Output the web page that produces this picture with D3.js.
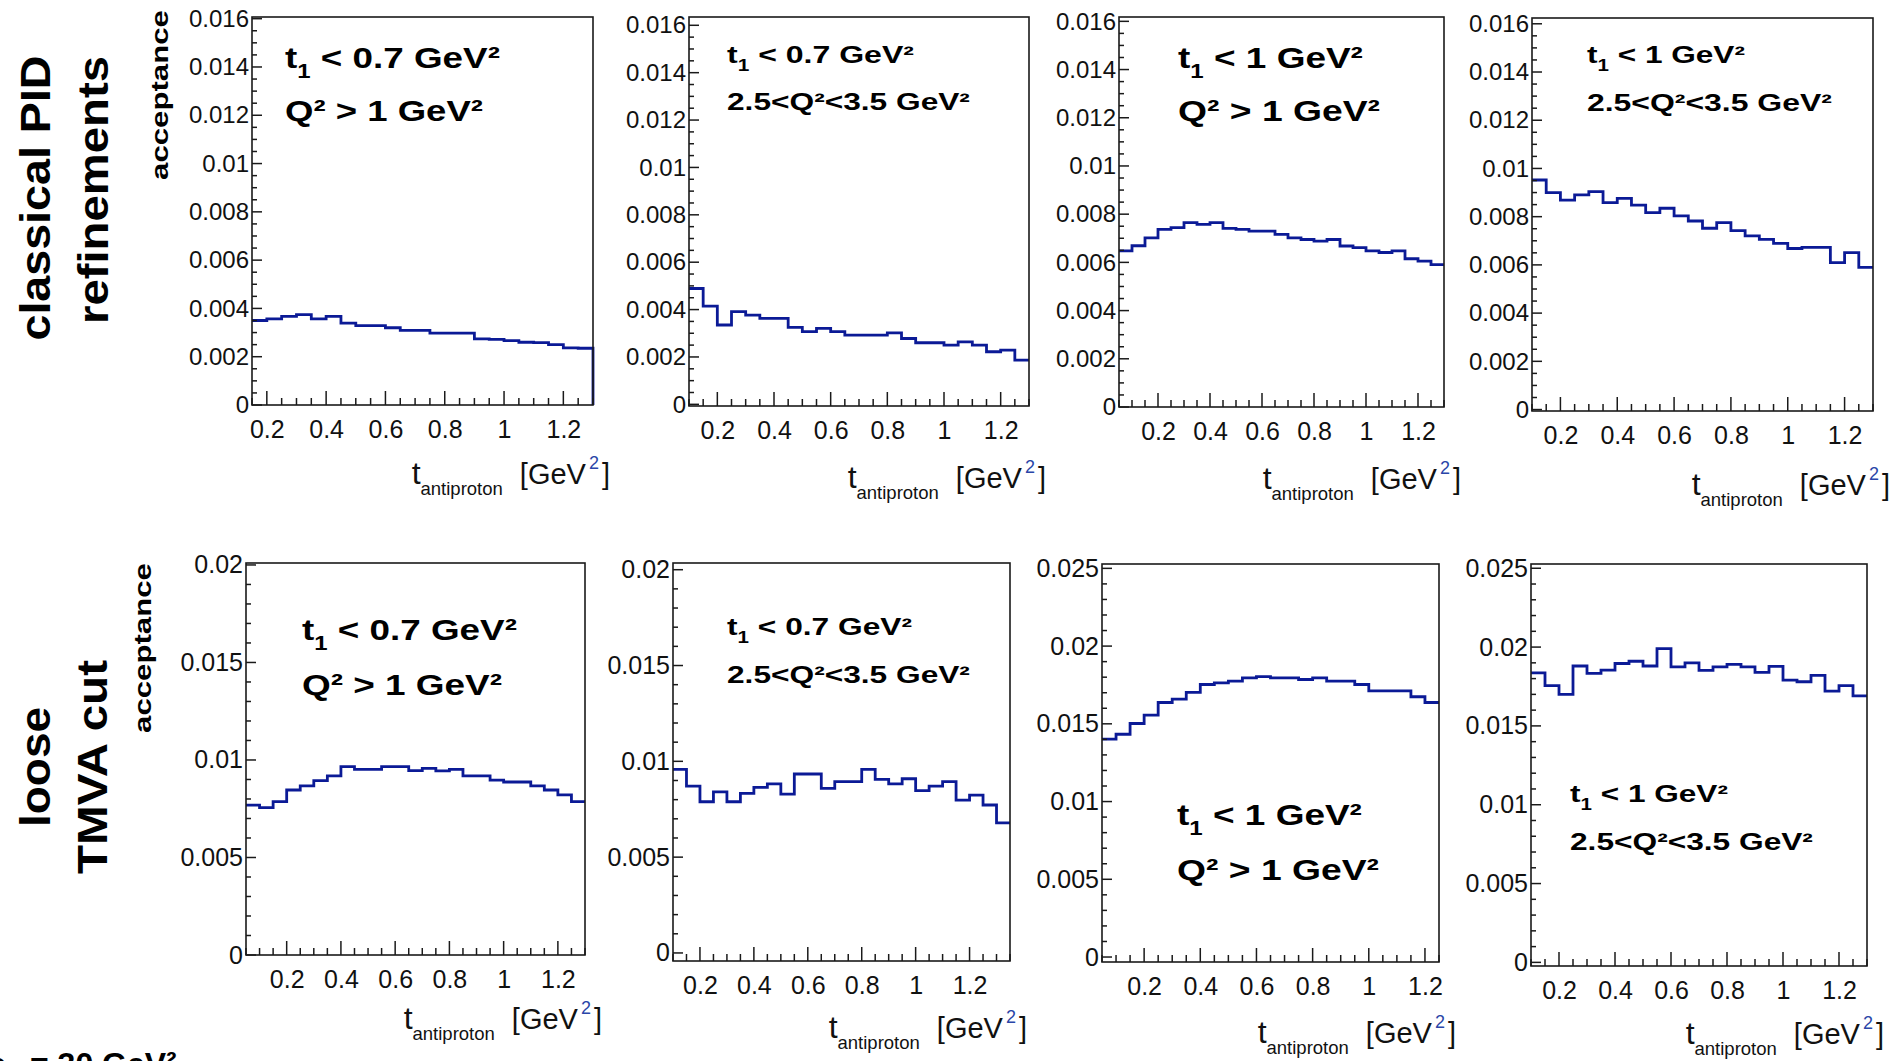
<!DOCTYPE html>
<html>
<head>
<meta charset="utf-8">
<script src="https://cdn.jsdelivr.net/npm/d3@7"></script>
<style>
  html, body { margin: 0; padding: 0; background: #fff; }
  svg { display: block; }
  text { font-family: "Liberation Sans", Arial, Helvetica, sans-serif; }
</style>
</head>
<body>
<svg id="chart" width="1903" height="1061"></svg>
<script>
// ---------------- DATA ----------------
const BIN_WIDTH = 0.05;

// top row: classical PID refinements
const pidT07Q1  = [0.00350,0.00357,0.00367,0.00374,0.00357,0.00367,0.00339,0.00329,0.00329,0.00320,0.00309,0.00309,0.00298,0.00298,0.00298,0.00274,0.00272,0.00267,0.00260,0.00258,0.00250,0.00237,0.00235];
const pidT07Q25 = [0.00489,0.00415,0.00335,0.00391,0.00377,0.00363,0.00363,0.00325,0.00307,0.00321,0.00307,0.00292,0.00292,0.00292,0.00302,0.00278,0.00260,0.00260,0.00250,0.00264,0.00250,0.00222,0.00229,0.00187];
const pidT1Q1   = [0.00648,0.00669,0.00702,0.00737,0.00744,0.00765,0.00758,0.00765,0.00741,0.00737,0.00730,0.00730,0.00716,0.00702,0.00695,0.00688,0.00695,0.00668,0.00661,0.00648,0.00641,0.00648,0.00615,0.00605,0.00591];
const pidT1Q25  = [0.00952,0.00900,0.00869,0.00890,0.00904,0.00858,0.00876,0.00848,0.00817,0.00835,0.00803,0.00782,0.00752,0.00775,0.00742,0.00720,0.00706,0.00689,0.00668,0.00673,0.00673,0.00609,0.00651,0.00590];

// bottom row: loose TMVA cut
const tmvaT07Q1  = [0.00769,0.00756,0.00786,0.00846,0.00867,0.00894,0.00918,0.00966,0.00952,0.00952,0.00966,0.00966,0.00945,0.00957,0.00944,0.00952,0.00918,0.00918,0.00897,0.00887,0.00887,0.00867,0.00846,0.00821,0.00786];
const tmvaT07Q25 = [0.00958,0.00871,0.00789,0.00841,0.00789,0.00833,0.00864,0.00882,0.00829,0.00934,0.00934,0.00859,0.00894,0.00894,0.00958,0.00906,0.00882,0.00909,0.00847,0.00871,0.00894,0.00798,0.00824,0.00772,0.00679];
const tmvaT1Q1   = [0.01401,0.01433,0.01502,0.01556,0.01637,0.01659,0.01702,0.01753,0.01764,0.01775,0.01796,0.01803,0.01796,0.01796,0.01785,0.01796,0.01775,0.01775,0.01753,0.01712,0.01712,0.01712,0.01674,0.01637];
const tmvaT1Q25  = [0.01837,0.01755,0.01700,0.01880,0.01833,0.01854,0.01896,0.01910,0.01880,0.01990,0.01875,0.01900,0.01852,0.01875,0.01890,0.01875,0.01840,0.01877,0.01790,0.01780,0.01820,0.01720,0.01755,0.01690];

const seriesValues = [pidT07Q1, pidT07Q25, pidT1Q1, pidT1Q25, tmvaT07Q1, tmvaT07Q25, tmvaT1Q1, tmvaT1Q25];
const histStart = [0.15, 0.10, 0.05, 0.10, 0.05, 0.10, 0.05, 0.10];
const dropToZeroAtEnd = [true, false, false, false, false, false, false, false];

const xDomains = [[0.15,1.30],[0.10,1.30],[0.05,1.30],[0.10,1.30],[0.05,1.30],[0.10,1.35],[0.05,1.25],[0.10,1.30]];
const yDomains = [[0,0.01607],[-0.00007,0.01635],[0,0.01618],[-0.00006,0.01624],
                  [0,0.0201],[-0.00042,0.02035],[-0.00032,0.02528],[-0.00023,0.02527]];

const xTickValues = [0.2, 0.4, 0.6, 0.8, 1.0, 1.2];
const xTickLabels = ["0.2", "0.4", "0.6", "0.8", "1", "1.2"];
const yTickValuesTop = [0, 0.002, 0.004, 0.006, 0.008, 0.01, 0.012, 0.014, 0.016];
const yTickLabelsTop = ["0", "0.002", "0.004", "0.006", "0.008", "0.01", "0.012", "0.014", "0.016"];
const yTickValuesB1 = [0, 0.005, 0.01, 0.015, 0.02];
const yTickLabelsB1 = ["0", "0.005", "0.01", "0.015", "0.02"];
const yTickValuesB2 = [0, 0.005, 0.01, 0.015, 0.02, 0.025];
const yTickLabelsB2 = ["0", "0.005", "0.01", "0.015", "0.02", "0.025"];

const cutLine1 = [" < 0.7 GeV²", " < 0.7 GeV²", " < 1 GeV²", " < 1 GeV²", " < 0.7 GeV²", " < 0.7 GeV²", " < 1 GeV²", " < 1 GeV²"];
const cutLine2 = ["Q² > 1 GeV²", "2.5<Q²<3.5 GeV²", "Q² > 1 GeV²", "2.5<Q²<3.5 GeV²", "Q² > 1 GeV²", "2.5<Q²<3.5 GeV²", "Q² > 1 GeV²", "2.5<Q²<3.5 GeV²"];
const rowLabels = [["classical PID", "refinements"], ["loose", "TMVA cut"]];
const yAxisTitle = "acceptance";
const footText = ["s", "= 30 GeV²"];

// ---------------- LAYOUT ----------------
const frames = [ // [left, right, top, bottom]
  [252, 593, 17, 405], [689, 1029, 17, 406], [1119, 1444, 17, 407], [1532, 1873, 18, 411],
  [246, 585, 563, 955], [673, 1010, 563, 961], [1102, 1439, 564, 962], [1531, 1867, 564, 966]
];
const yTickSets = [
  [yTickValuesTop, yTickLabelsTop, 0.0005], [yTickValuesTop, yTickLabelsTop, 0.0005],
  [yTickValuesTop, yTickLabelsTop, 0.0005], [yTickValuesTop, yTickLabelsTop, 0.0005],
  [yTickValuesB1, yTickLabelsB1, 0.001], [yTickValuesB1, yTickLabelsB1, 0.001],
  [yTickValuesB2, yTickLabelsB2, 0.001], [yTickValuesB2, yTickLabelsB2, 0.001]
];
const yLabelFont = [24, 24, 24, 24, 25, 25, 25, 25];
// annotation: [x, baseline1, baseline2, fontSize, width1, width2]
const annots = [
  [285, 68, 121, 30, 215, 198], [727, 63, 110, 24, 187, 243],
  [1178, 68, 121, 30, 185, 202], [1587, 63, 111, 24, 158, 245],
  [302, 640, 695, 30, 215, 200], [727, 635, 683, 24, 185, 243],
  [1177, 825, 880, 30, 185, 202], [1570, 802, 850, 24, 158, 243]
];
const xTitleOffset = [79, 82, 82, 84, 74, 77, 81, 78];

const svg = d3.select("#chart");
svg.append("rect").attr("width", 1903).attr("height", 1061).attr("fill", "#fff");

const HIST_COLOR = "#0b1a96";
const AXIS_COLOR = "#1a1a1a";

function fitGroup(parent, x, y, target, build, rotate) {
  const g = parent.append("g");
  const t = g.append("text");
  build(t);
  const w = t.node().getBBox().width;
  const s = target ? target / w : 1;
  g.attr("transform", `translate(${x},${y})` + (rotate ? " rotate(-90)" : "") + ` scale(${s},1)`);
  return g;
}

seriesValues.forEach((vals, i) => {
  const [L, R, T, B] = frames[i];
  const x = d3.scaleLinear().domain(xDomains[i]).range([L, R]);
  const y = d3.scaleLinear().domain(yDomains[i]).range([B, T]);
  const g = svg.append("g");

  // histogram (step line)
  const pts = vals.map((v, k) => [histStart[i] + k * BIN_WIDTH, v]);
  const xEnd = histStart[i] + vals.length * BIN_WIDTH;
  pts.push([xEnd, vals[vals.length - 1]]);
  if (dropToZeroAtEnd[i]) pts.push([xEnd, 0]);
  const line = d3.line().x(d => x(d[0])).y(d => y(d[1])).curve(d3.curveStepAfter);
  g.append("path").attr("d", line(pts))
    .attr("fill", "none").attr("stroke", HIST_COLOR).attr("stroke-width", 2.8)
    .attr("stroke-linejoin", "miter");

  // frame
  g.append("rect").attr("x", L).attr("y", T).attr("width", R - L).attr("height", B - T)
    .attr("fill", "none").attr("stroke", AXIS_COLOR).attr("stroke-width", 1.6);

  // x ticks
  const d0 = xDomains[i][0], d1 = xDomains[i][1];
  const minorX = d3.range(Math.ceil(d0 / 0.05 - 1e-6), Math.floor(d1 / 0.05 + 1e-6) + 1).map(k => k * 0.05)
    .filter(v => !xTickValues.some(t => Math.abs(t - v) < 1e-6));
  const xAxis = d3.axisBottom(x).tickValues(xTickValues).tickFormat((d, k) => xTickLabels[k]).tickSize(0);
  const gx = g.append("g").attr("transform", `translate(0,${B})`).call(xAxis);
  gx.select(".domain").remove();
  gx.selectAll("text").attr("font-size", 25).attr("fill", "#111").attr("dy", null).attr("y", 33)
    .attr("font-family", "Liberation Sans, Arial, sans-serif");
  g.selectAll(null).data(minorX).enter().append("line")
    .attr("x1", d => x(d)).attr("x2", d => x(d)).attr("y1", B).attr("y2", B - 7)
    .attr("stroke", AXIS_COLOR).attr("stroke-width", 1.5);
  g.selectAll(null).data(xTickValues.filter(v => v >= d0 && v <= d1)).enter().append("line")
    .attr("x1", d => x(d)).attr("x2", d => x(d)).attr("y1", B).attr("y2", B - 14)
    .attr("stroke", AXIS_COLOR).attr("stroke-width", 1.5);

  // y ticks
  const [yv, yl, ystep] = yTickSets[i];
  const yTop = yDomains[i][1];
  const minorY = d3.range(0, Math.floor(yTop / ystep + 1e-6) + 1).map(k => k * ystep)
    .filter(v => !yv.some(t => Math.abs(t - v) < 1e-9));
  const yAxis = d3.axisLeft(y).tickValues(yv).tickFormat((d, k) => yl[k]).tickSize(0).tickPadding(3);
  const gy = g.append("g").attr("transform", `translate(${L},0)`).call(yAxis);
  gy.select(".domain").remove();
  gy.selectAll("text").attr("font-size", yLabelFont[i]).attr("fill", "#111")
    .attr("font-family", "Liberation Sans, Arial, sans-serif");
  g.selectAll(null).data(minorY).enter().append("line")
    .attr("x1", L).attr("x2", L + 5).attr("y1", d => y(d)).attr("y2", d => y(d))
    .attr("stroke", AXIS_COLOR).attr("stroke-width", 1.5);
  g.selectAll(null).data(yv).enter().append("line")
    .attr("x1", L).attr("x2", L + 10).attr("y1", d => y(d)).attr("y2", d => y(d))
    .attr("stroke", AXIS_COLOR).attr("stroke-width", 1.5);

  // x title
  const xt = g.append("text").attr("text-anchor", "end")
    .attr("x", R + 17).attr("y", B + xTitleOffset[i]).attr("font-size", 29).attr("fill", "#111");
  xt.append("tspan").attr("font-size", 32).text("t");
  xt.append("tspan").attr("font-size", 18.5).attr("dy", 11).text("antiproton");
  xt.append("tspan").attr("dy", -11).attr("dx", 17).text("[GeV");
  xt.append("tspan").attr("font-size", 18).attr("dy", -15).attr("dx", 3).attr("fill", "#2a46a8").text("2");
  xt.append("tspan").attr("dy", 15).attr("dx", 3).text("]");

  // annotation
  const [ax, b1, b2, fs, w1, w2] = annots[i];
  fitGroup(svg, ax, b1, w1, t => {
    t.attr("font-size", fs).attr("font-weight", "bold").attr("fill", "#000");
    t.append("tspan").text("t");
    t.append("tspan").attr("font-size", fs * 0.65).attr("dy", fs * 0.32).text("1");
    t.append("tspan").attr("dy", -fs * 0.32).text(cutLine1[i]);
  });
  fitGroup(svg, ax, b2, w2, t => {
    t.attr("font-size", fs).attr("font-weight", "bold").attr("fill", "#000").text(cutLine2[i]);
  });
});

// y-axis titles (first column)
[[168, 95], [151, 648]].forEach(([bx, cy]) => {
  fitGroup(svg, bx, cy, 170, t => {
    t.attr("font-size", 23).attr("font-weight", "bold").attr("text-anchor", "middle").attr("fill", "#000").text(yAxisTitle);
  }, true);
});

// row labels
const rowLabelPos = [[[50, 198, 285], [108, 190, 268]], [[50, 767, 120], [107, 767, 214]]];
rowLabels.forEach((pair, r) => {
  pair.forEach((txt, k) => {
    const [bx, cy, len] = rowLabelPos[r][k];
    fitGroup(svg, bx, cy, len, t => {
      t.attr("font-size", 42).attr("font-weight", "bold").attr("text-anchor", "middle").attr("fill", "#000").text(txt);
    }, true);
  });
});

// cut-off footer text
svg.append("text").attr("x", 6).attr("y", 1075).attr("text-anchor", "end")
  .attr("font-size", 32).attr("font-weight", "bold").text(footText[0]);
svg.append("text").attr("x", 30).attr("y", 1075)
  .attr("font-size", 32).attr("font-weight", "bold").text(footText[1]);
</script>
</body>
</html>
